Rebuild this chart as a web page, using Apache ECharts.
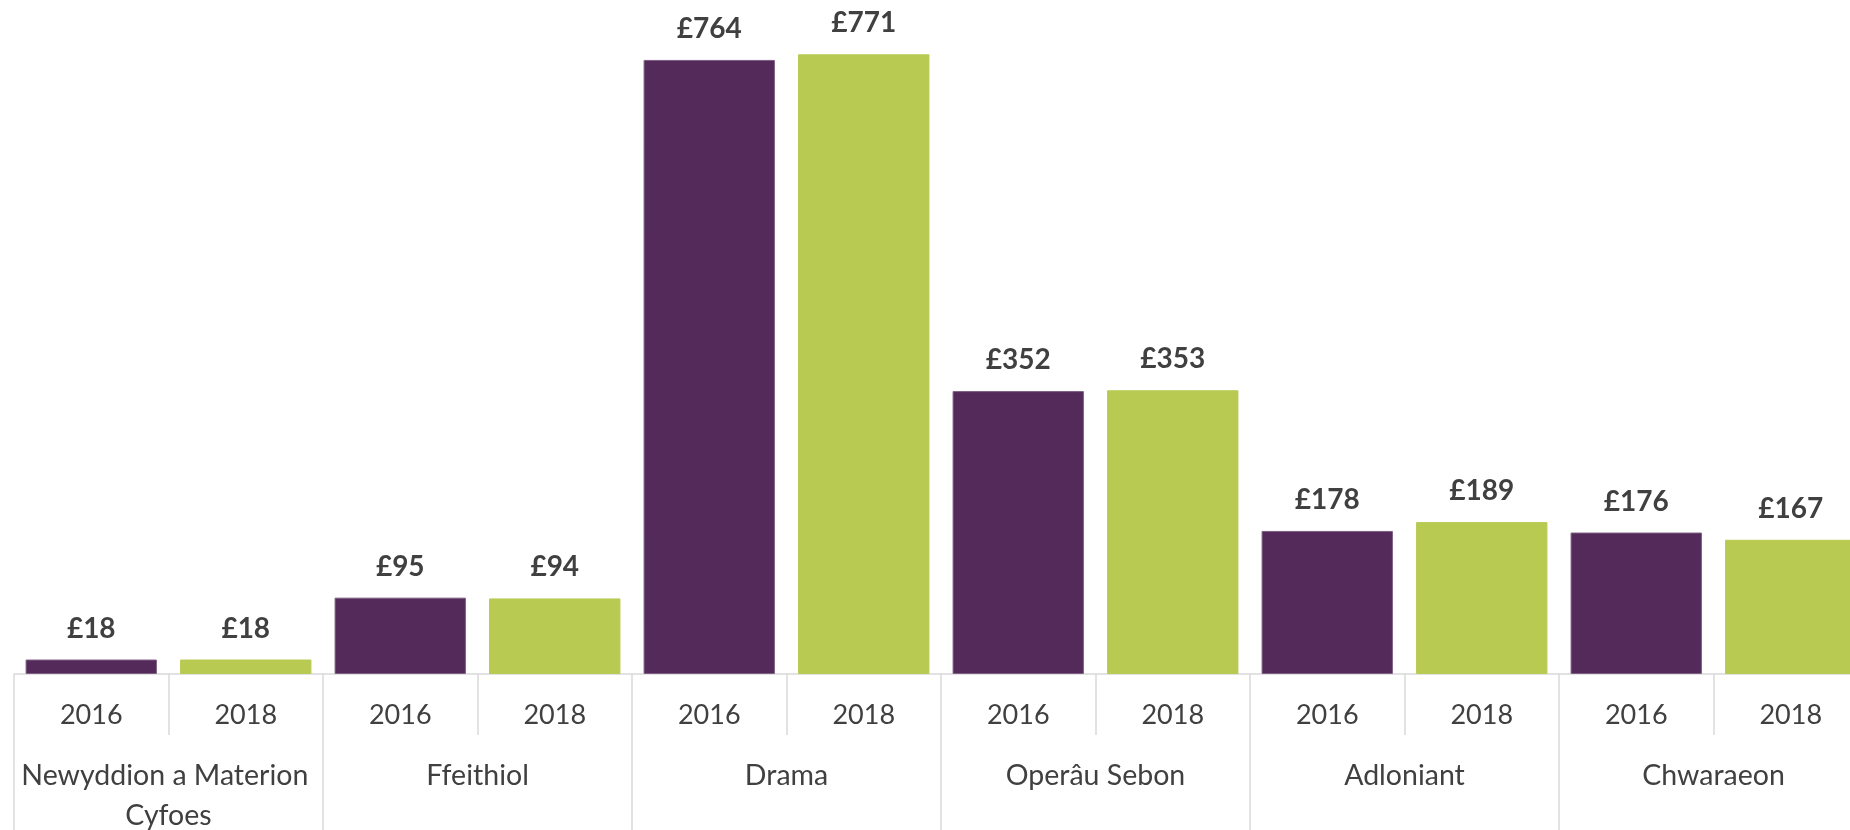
<!DOCTYPE html>
<html>
<head>
<meta charset="utf-8">
<script src="https://cdn.jsdelivr.net/npm/echarts@6/dist/echarts.min.js"></script>
<style>
  html, body { margin: 0; padding: 0; background: #fff; overflow: hidden; }
  #chart { width: 1870px; height: 830px; }
</style>
</head>
<body>
<div id="chart"></div>
<script>
// Data (£ per hour, by genre)
const groups = ['Newyddion a Materion Cyfoes', 'Ffeithiol', 'Drama', 'Operâu Sebon', 'Adloniant', 'Chwaraeon'];
const years = ['2016', '2018'];
const values2016 = [18, 95, 764, 352, 178, 176];
const values2018 = [18, 94, 771, 353, 189, 167];

const yearColors = ['#532A5A', '#B8CA51'];
const yearBorders = ['#7E5F84', '#B8CA51'];
const textColor = '#404040';
const lineColor = '#D9D9D9';

// one slot per genre/year pair
const yearLabels = [];
const barData = [];
groups.forEach((g, i) => {
  [values2016[i], values2018[i]].forEach((v, j) => {
    yearLabels.push(years[j]);
    barData.push({ value: v, itemStyle: { color: yearColors[j], borderColor: yearBorders[j], borderWidth: 1 } });
  });
});

const chart = echarts.init(document.getElementById('chart'), null, { renderer: 'canvas' });

chart.setOption({
  animation: false,
  backgroundColor: '#fff',
  grid: { left: 14, top: 31, width: 1854, height: 643, outerBoundsMode: 'none', containLabel: false },
  xAxis: [
    {
      type: 'category',
      data: yearLabels,
      position: 'bottom',
      axisLine: { show: true, lineStyle: { color: lineColor, width: 1.5 } },
      axisTick: { show: true, interval: 0, length: 61, lineStyle: { color: lineColor, width: 1.5 } },
      axisLabel: {
        interval: 0,
        color: textColor,
        fontFamily: 'Lato',
        fontSize: 27,
        lineHeight: 30,
        margin: 26
      }
    },
    {
      type: 'category',
      data: groups,
      position: 'bottom',
      axisLine: { show: false },
      axisTick: { show: true, interval: 0, length: 160, lineStyle: { color: lineColor, width: 1.5 } },
      axisLabel: {
        interval: 0,
        color: textColor,
        fontFamily: 'Lato',
        fontSize: 28.5,
        lineHeight: 40,
        margin: 82,
        width: 305,
        overflow: 'break'
      }
    }
  ],
  yAxis: {
    type: 'value',
    min: 0,
    max: 800,
    show: false
  },
  series: [{
    type: 'bar',
    xAxisIndex: 0,
    barWidth: '85%',
    data: barData,
    label: {
      show: true,
      position: 'top',
      distance: 17,
      color: textColor,
      fontFamily: 'Lato',
      fontWeight: 'bold',
      fontSize: 28,
      formatter: p => '£' + p.value
    }
  }]
});

window.addEventListener('resize', () => chart.resize());
</script>
</body>
</html>
